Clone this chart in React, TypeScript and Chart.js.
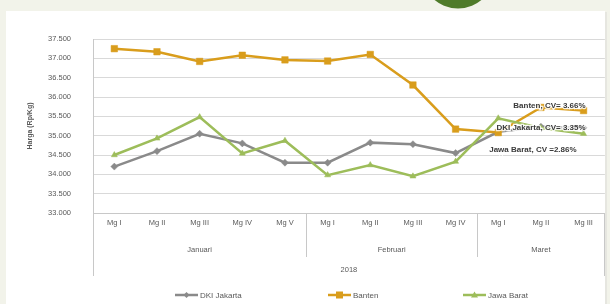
import React, { useEffect, useRef } from "react";
import { Chart, registerables } from "chart.js";
Chart.register(...registerables);

const weeks = ["Mg I", "Mg II", "Mg III", "Mg IV", "Mg V", "Mg I", "Mg II", "Mg III", "Mg IV", "Mg I", "Mg II", "Mg III"];
const months = ["Januari", "Februari", "Maret"];
const monthSpans = [5, 4, 3];
const yearLabel = "2018";
const dkiJakarta = [34200, 34600, 35050, 34800, 34300, 34300, 34820, 34780, 34550, 35100, 35230, 35200];
const banten = [37250, 37170, 36920, 37080, 36960, 36930, 37100, 36310, 35170, 35080, 35730, 35650];
const jawaBarat = [34500, 34930, 35480, 34540, 34870, 33980, 34240, 33950, 34330, 35450, 35200, 35050];
const seriesNames = ["DKI Jakarta", "Banten", "Jawa Barat"];
const cvLabels = ["DKI Jakarta, CV= 3.35%", "Banten, CV= 3.66%", "Jawa Barat, CV =2.86%"];
const cvLabelValues = [35200, 35780, 34640];
const yTitle = "Harga (Rp/Kg)";

const colDki = "#8a8a8a";
const colBanten = "#d99d1c";
const colJabar = "#9dbd5a";
const FONT = "'Liberation Sans', Arial, sans-serif";

export default function App() {
  const ref = useRef<HTMLCanvasElement | null>(null);
  useEffect(() => {
    const canvas = ref.current!;
    const bgPlugin = {
      id: "bg",
      beforeDraw(chart: any) {
        const ctx = chart.ctx;
        ctx.save();
        ctx.fillStyle = "#f2f3ea";
        ctx.fillRect(0, 0, chart.width, chart.height);
        ctx.fillStyle = "#e6e6e0";
        ctx.fillRect(7, 12, 600, chart.height);
        ctx.fillStyle = "#ffffff";
        ctx.fillRect(6, 11, 599, chart.height);
        ctx.fillStyle = "#4f7b2a";
        ctx.beginPath();
        ctx.arc(458, -28, 36.5, 0, Math.PI * 2);
        ctx.fill();
        ctx.restore();
      },
    };
    const overlay = {
      id: "overlay",
      afterDraw(chart: any) {
        const ctx = chart.ctx;
        const xs = chart.scales.x;
        const ys = chart.scales.y;
        const area = chart.chartArea;
        const half = (xs.getPixelForValue(1) - xs.getPixelForValue(0)) / 2;
        ctx.save();
        ctx.strokeStyle = "#c8c8c8";
        ctx.lineWidth = 1;
        ctx.beginPath();
        ctx.moveTo(Math.round(area.left) + 0.5, area.bottom);
        ctx.lineTo(Math.round(area.left) + 0.5, area.bottom + 63);
        ctx.moveTo(Math.round(area.right) - 0.5, area.bottom);
        ctx.lineTo(Math.round(area.right) - 0.5, area.bottom + 63);
        ctx.stroke();
        ctx.fillStyle = "#595959";
        ctx.font = `7.5px ${FONT}`;
        ctx.textAlign = "center";
        ctx.textBaseline = "middle";
        let idx = 0;
        months.forEach((m, i) => {
          const start = idx;
          const end = idx + monthSpans[i] - 1;
          const cx = (xs.getPixelForValue(start) + xs.getPixelForValue(end)) / 2;
          ctx.fillText(m, cx, area.bottom + 37);
          if (i > 0) {
            const sx = Math.round(xs.getPixelForValue(start) - half) + 0.5;
            ctx.beginPath();
            ctx.moveTo(sx, area.bottom);
            ctx.lineTo(sx, area.bottom + 44);
            ctx.stroke();
          }
          idx += monthSpans[i];
        });
        ctx.fillText(yearLabel, (area.left + area.right) / 2, area.bottom + 57);
        ctx.font = `bold 8px ${FONT}`;
        ctx.textAlign = "right";
        const lx = xs.getPixelForValue(weeks.length - 1) + 2;
        cvLabels.forEach((t, i) => {
          const y = ys.getPixelForValue(cvLabelValues[i]);
          const x = lx - (i === 2 ? 9 : 0);
          ctx.lineWidth = 2.5;
          ctx.strokeStyle = "rgba(255,255,255,0.85)";
          ctx.strokeText(t, x, y);
          ctx.fillStyle = "#3a3a3a";
          ctx.fillText(t, x, y);
        });
        const cols = [colDki, colBanten, colJabar];
        const styles = ["diamond", "square", "triangle"];
        const legX = [175, 328, 463];
        const ly = 295;
        ctx.font = `8px ${FONT}`;
        ctx.textAlign = "left";
        seriesNames.forEach((n, i) => {
          const x0 = legX[i];
          ctx.strokeStyle = cols[i];
          ctx.fillStyle = cols[i];
          ctx.lineWidth = 2.5;
          ctx.beginPath();
          ctx.moveTo(x0, ly);
          ctx.lineTo(x0 + 23, ly);
          ctx.stroke();
          const mx = x0 + 11.5;
          ctx.beginPath();
          if (styles[i] === "diamond") {
            ctx.moveTo(mx, ly - 3); ctx.lineTo(mx + 3, ly); ctx.lineTo(mx, ly + 3); ctx.lineTo(mx - 3, ly);
          } else if (styles[i] === "square") {
            ctx.rect(mx - 3.5, ly - 3.5, 7, 7);
          } else {
            ctx.moveTo(mx, ly - 3.5); ctx.lineTo(mx + 3.5, ly + 2.5); ctx.lineTo(mx - 3.5, ly + 2.5);
          }
          ctx.closePath();
          ctx.fill();
          ctx.fillStyle = "#595959";
          ctx.fillText(n, x0 + 25, ly + 0.5);
        });
        ctx.restore();
      },
    };
    const chart = new Chart(canvas, {
      type: "line",
      data: {
        labels: weeks,
        datasets: [
          {
            label: seriesNames[0],
            data: dkiJakarta,
            borderColor: colDki,
            backgroundColor: colDki,
            borderWidth: 2.5,
            pointStyle: "rectRot",
            pointRadius: 3.5,
            pointBorderWidth: 0.5,
            order: 3,
          },
          {
            label: seriesNames[1],
            data: banten,
            borderColor: colBanten,
            backgroundColor: colBanten,
            borderWidth: 2.5,
            pointStyle: "rect",
            pointRadius: 4.6,
            pointBorderWidth: 0.5,
            order: 2,
          },
          {
            label: seriesNames[2],
            data: jawaBarat,
            borderColor: colJabar,
            backgroundColor: colJabar,
            borderWidth: 2.5,
            pointStyle: "triangle",
            pointRadius: 3.5,
            pointBorderWidth: 0.5,
            order: 1,
          },
        ],
      },
      options: {
        animation: false,
        responsive: false,
        devicePixelRatio: 1,
        layout: { padding: { left: 0, top: 39, right: 2, bottom: 0 } },
        plugins: { legend: { display: false }, tooltip: { enabled: false } },
        scales: {
          x: {
            offset: true,
            grid: { display: false, drawTicks: false },
            border: { display: true, color: "#c8c8c8" },
            ticks: { font: { size: 7.5, family: FONT }, color: "#595959", padding: 5, maxRotation: 0, autoSkip: false },
            afterFit: (s: any) => { s.height = 91; },
          },
          y: {
            min: 33000,
            max: 37500,
            grid: { color: "#d9d9d9", drawTicks: false },
            border: { display: true, color: "#c8c8c8" },
            ticks: {
              stepSize: 500,
              padding: 22,
              font: { size: 7.5, family: FONT },
              color: "#595959",
              callback: (v: any) => Number(v).toLocaleString("de-DE"),
            },
            title: { display: true, text: yTitle, font: { size: 7, family: FONT, weight: "bold" }, color: "#595959", padding: { top: 26, bottom: 0 } },
            afterFit: (s: any) => { s.width = 93; },
          },
        },
      },
      plugins: [bgPlugin, overlay],
    });
    return () => chart.destroy();
  }, []);
  return (
    <div style={{ position: "fixed", left: 0, top: 0, width: 610, height: 304 }}>
      <canvas ref={ref} width={610} height={304} style={{ width: 610, height: 304, display: "block" }} />
    </div>
  );
}
